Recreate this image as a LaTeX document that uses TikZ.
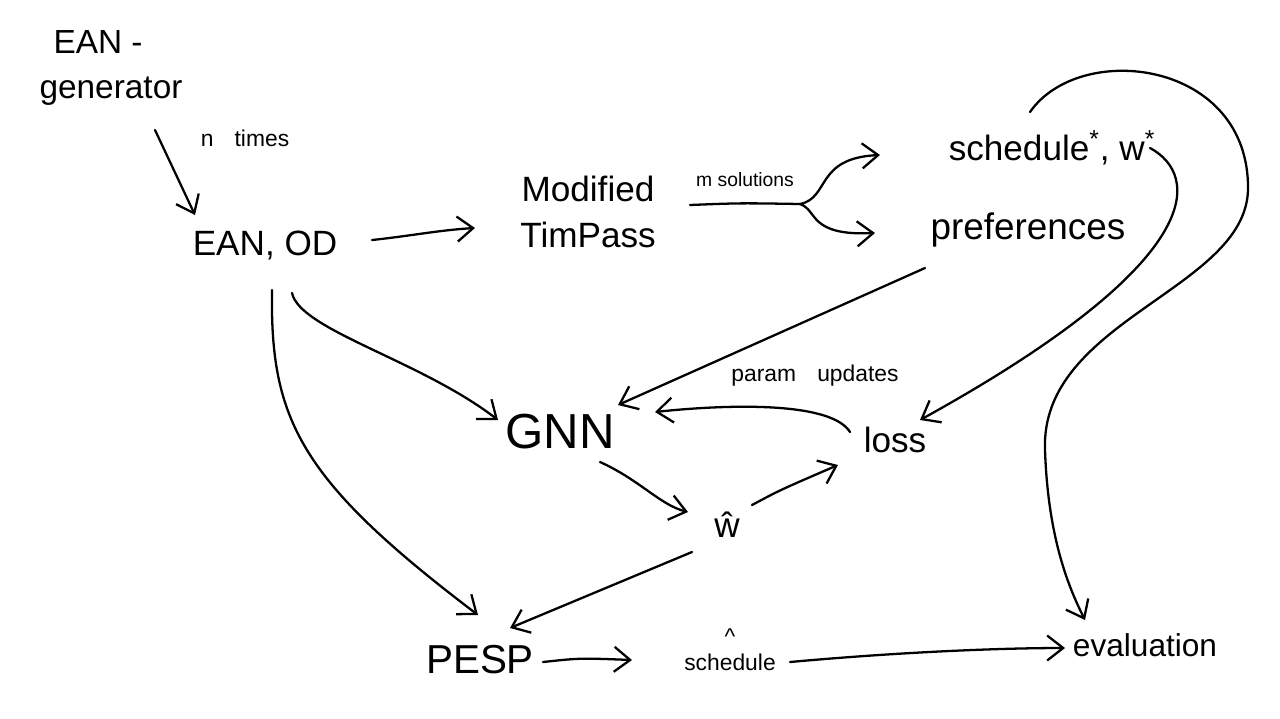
\documentclass[tikz,border=0pt]{standalone}
\usepackage{fontspec}
\setmainfont{Liberation Sans}
\usetikzlibrary{arrows.meta,calc}
\begin{document}
\begin{tikzpicture}[x=0.02cm,y=-0.02cm,
  lbl/.style={inner sep=1pt,font=\fontsize{20}{24}\selectfont},
  big/.style={inner sep=1pt,font=\fontsize{28}{32}\selectfont},
  small/.style={inner sep=1pt,font=\fontsize{13}{15}\selectfont},
  conn/.style={line width=1.3pt,line cap=round,line join=round},
  arr/.style={conn,-{Straight Barb[length=3.2mm,width=5mm,line width=1.3pt]}}]
\useasboundingbox[fill=white] (0,0) rectangle (1280,718);
% nodes
\node[lbl,align=left,font=\fontsize{19}{26}\selectfont] (gen) at (111,68) {\hspace{8pt}EAN -\\generator};
\node[small] (ntimes) at (245,138) {n\hspace{12pt}times};
\node[lbl,font=\fontsize{20}{24}\selectfont] (eanod) at (265,245) {EAN, OD};
\node[lbl,align=center] (tim) at (588,212) {Modified\\[2pt]TimPass};
\node[small,font=\fontsize{11}{13}\selectfont] (msol) at (745,180) {m solutions};
\coordinate (split) at (800,204);
\node[lbl] (sched) at (1052,148) {schedule\textsuperscript{*}, w\textsuperscript{*}};
\node[lbl,font=\fontsize{21}{25}\selectfont] (pref) at (1028,230) {preferences};
\node[big] (gnn) at (560,432) {GNN};
\node[small] (param) at (815,376) {param\hspace{12pt}updates};
\node[lbl] (loss) at (895,440) {loss};
\node[lbl] (what) at (727,525) {ŵ};
\node[lbl,font=\fontsize{23}{26}\selectfont] (pesp) at (480,660) {PESP};
\node[lbl,align=center,font=\fontsize{13}{13}\selectfont] (shat) at (730,650) {\^{}\\[2pt]schedule};
\node[lbl,font=\fontsize{18}{22}\selectfont] (eval) at (1145,645) {evaluation};
% connectors
\draw[arr] ([shift={(44,62)}]gen.center) -- ([shift={(-70,-30)}]eanod.center);
\draw[arr] ([shift={(107,-5)}]eanod.center) .. controls (410,236) and (440,230) .. ([shift={(-113,16)}]tim.center);
\draw[conn] ([shift={(102,-7)}]tim.center) .. controls (740,203) .. (split);
\draw[arr] (split) .. controls (830,198) and (815,158) .. ([shift={(-172,7)}]sched.center);
\draw[arr] (split) .. controls (818,210) and (808,236) .. ([shift={(-153,3)}]pref.center);
\draw[arr] ([shift={(-103,38)}]pref.center) -- ([shift={(58,-27)}]gnn.center);
\draw[arr] ([shift={(27,48)}]eanod.center) .. controls (300,330) and (420,360) .. ([shift={(-62,-12)}]gnn.center);
\draw[arr] ([shift={(7,45)}]eanod.center) .. controls (270,420) and (300,480) .. ([shift={(-2,-45)}]pesp.center);
\draw[arr] ([shift={(-45,-8)}]loss.center) .. controls (830,400) and (720,405) .. ([shift={(95,-20)}]gnn.center);
\draw[arr] ([shift={(98,0)}]sched.center) .. controls (1200,175) and (1210,260) .. ([shift={(25,-20)}]loss.center);
\draw[arr] ([shift={(-22,-36)}]sched.center) .. controls (1080,40) and (1250,60) .. (1248,190)
   .. controls (1245,290) and (1040,320) .. (1045,450)
   .. controls (1048,540) and (1070,590) .. ([shift={(-60,-25)}]eval.center);
\draw[arr] ([shift={(40,30)}]gnn.center) .. controls (640,480) and (660,505) .. ([shift={(-39,-13)}]what.center);
\draw[arr] ([shift={(25,-20)}]what.center) .. controls (780,490) .. ([shift={(-57,25)}]loss.center);
\draw[arr] ([shift={(-35,27)}]what.center) -- ([shift={(30,-32)}]pesp.center);
\draw[arr] ([shift={(63,2)}]pesp.center) .. controls (580,658) .. ([shift={(-98,10)}]shat.center);
\draw[arr] ([shift={(60,12)}]shat.center) .. controls (900,652) and (1000,648) .. ([shift={(-80,3)}]eval.center);
\end{tikzpicture}
\end{document}
